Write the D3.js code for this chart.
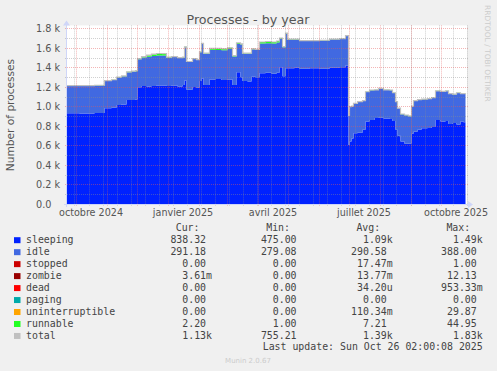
<!DOCTYPE html>
<html lang="fr">
<head>
<meta charset="UTF-8">
<title>Processes - by year</title>
<style>
    body {
        margin: 0;
        background: #f0f0f0;
        overflow: hidden;
    }
    svg {
        display: block;
        font-family: 'DejaVu Sans', sans-serif;
    }
    .mono {
        font-family: 'DejaVu Sans Mono', monospace;
    }
</style>
<script src="https://cdn.jsdelivr.net/npm/d3@7"></script>
</head>
<body>
<svg id="chart" width="497" height="371"></svg>
<script>
// values
const dates = [
    "2024-09-22", "2024-10-05", "2024-10-20", "2024-10-30", "2024-11-06", "2024-11-11", "2024-11-16",
    "2024-11-21", "2024-11-26", "2024-11-30", "2024-12-02", "2024-12-06", "2024-12-11", "2024-12-16",
    "2024-12-21", "2024-12-27", "2024-12-31", "2025-01-05", "2025-01-11", "2025-01-16", "2025-01-18",
    "2025-01-20", "2025-01-26", "2025-01-30", "2025-02-02", "2025-02-04", "2025-02-06", "2025-02-12",
    "2025-02-18", "2025-02-24", "2025-03-02", "2025-03-07", "2025-03-11", "2025-03-15", "2025-03-17",
    "2025-03-22", "2025-03-26", "2025-03-30", "2025-04-03", "2025-04-09", "2025-04-15", "2025-04-20",
    "2025-04-23", "2025-04-26", "2025-04-29", "2025-05-01", "2025-05-08", "2025-05-13", "2025-05-23",
    "2025-06-02", "2025-06-12", "2025-06-22", "2025-06-28", "2025-07-01", "2025-07-02", "2025-07-04",
    "2025-07-06", "2025-07-10", "2025-07-15", "2025-07-18", "2025-07-22", "2025-07-27", "2025-07-31",
    "2025-08-05", "2025-08-11", "2025-08-14", "2025-08-17", "2025-08-19", "2025-08-22", "2025-08-26",
    "2025-08-30", "2025-09-02", "2025-09-04", "2025-09-08", "2025-09-12", "2025-09-18", "2025-09-22",
    "2025-09-26", "2025-10-01", "2025-10-06", "2025-10-09", "2025-10-13", "2025-10-17", "2025-10-21",
    "2025-10-24", "2025-10-26"
];
const sleeping = [
    930, 928, 932, 980, 985, 1015, 1020,
    1065, 1065, 1070, 1195, 1210, 1205, 1210,
    1215, 1215, 1210, 1215, 1205, 1220, 1265,
    1170, 1200, 1190, 1260, 1285, 1220, 1275,
    1280, 1270, 1275, 1220, 1350, 1300, 1260,
    1255, 1305, 1300, 1340, 1345, 1335, 1345,
    1400, 1310, 1390, 1390, 1395, 1385, 1390,
    1385, 1395, 1400, 1420, 605, 640, 670,
    724, 730, 760, 845, 860, 880, 885,
    875, 870, 850, 760, 700, 640, 617,
    620, 720, 740, 760, 775, 780, 790,
    860, 845, 850, 820, 830, 815, 845,
    838, 838
];
const idle = [
    280, 281, 282, 282, 285, 283, 288,
    285, 292, 290, 287, 290, 305, 307,
    307, 307, 289, 290, 291, 281, 340,
    286, 286, 286, 296, 355, 320, 305,
    297, 305, 313, 292, 290, 335, 280,
    285, 280, 280, 305, 302, 310, 310,
    290, 297, 355, 295, 290, 287, 282,
    290, 292, 292, 302, 300, 355, 330,
    306, 316, 298, 303, 306, 288, 298,
    293, 296, 288, 288, 280, 280, 293,
    280, 280, 318, 308, 298, 298, 298,
    298, 308, 308, 308, 293, 323, 283,
    290, 291
];
const runnable = [
    3, 3, 3, 3, 3, 3, 4,
    4, 4, 6, 8, 10, 15, 18,
    20, 18, 6, 5, 4, 4, 5,
    4, 4, 4, 4, 5, 5, 15,
    18, 15, 12, 8, 10, 5, 5,
    5, 5, 5, 15, 18, 15, 15,
    10, 5, 5, 5, 5, 3, 3,
    3, 3, 3, 3, 3, 2, 2,
    2, 2, 2, 2, 2, 2, 2,
    2, 2, 2, 2, 2, 2, 2,
    2, 2, 2, 2, 2, 2, 2,
    2, 2, 2, 2, 2, 2, 2,
    2, 2.2
];

const yTicks = [0, 200, 400, 600, 800, 1000, 1200, 1400, 1600, 1800];
const yTickLabels = ["0.0", "0.2 k", "0.4 k", "0.6 k", "0.8 k", "1.0 k", "1.2 k", "1.4 k", "1.6 k", "1.8 k"];
const xLabelMonths = ["2024-10-01", "2025-01-01", "2025-04-01", "2025-07-01", "2025-10-01"];
const xLabels = ["octobre 2024", "janvier 2025", "avril 2025", "juillet 2025", "octobre 2025"];

const legendNames = ["sleeping", "idle", "stopped", "zombie", "dead", "paging", "uninterruptible", "runnable", "total"];
const legendColors = ["#0022ff", "#4169e1", "#cc0000", "#990000", "#ff0000", "#00aaaa", "#ffa500", "#22ff22", "#c0c0c0"];
const legendCur = ["838.32", "291.18", "0.00", "3.61m", "0.00", "0.00", "0.00", "2.20", "1.13k"];
const legendMin = ["475.00", "279.08", "0.00", "0.00", "0.00", "0.00", "0.00", "1.00", "755.21"];
const legendAvg = ["1.09k", "290.58", "17.47m", "13.77m", "34.20u", "0.00", "110.34m", "7.21", "1.39k"];
const legendMax = ["1.49k", "388.00", "1.00", "12.13", "953.33m", "0.00", "29.87", "44.95", "1.83k"];

const svg = d3.select("#chart");
const textColor = "#555";

// plot area
const plotLeft = 67, plotRight = 467, plotTop = 25.4, plotBottom = 204;

const parse = d3.timeParse("%Y-%m-%d");
const startDate = new Date(2024, 8, 22, 12);
const endDate = new Date(2025, 9, 27, 12);

const x = d3.scaleTime().domain([startDate, endDate]).range([plotLeft, plotRight]);
const y = d3.scaleLinear().domain([0, 1830]).range([plotBottom, plotTop]);

const rows = dates.map((d, i) => ({
    date: parse(d),
    sleeping: sleeping[i],
    idle: idle[i],
    runnable: runnable[i]
}));

svg.append("rect")
    .attr("x", plotLeft).attr("y", plotTop)
    .attr("width", plotRight - plotLeft).attr("height", plotBottom - plotTop)
    .attr("fill", "#ffffff");

svg.append("clipPath").attr("id", "plot-clip")
    .append("rect")
    .attr("x", plotLeft).attr("y", plotTop)
    .attr("width", plotRight - plotLeft).attr("height", plotBottom - plotTop);

const plot = svg.append("g").attr("clip-path", "url(#plot-clip)");

const stack = d3.stack().keys(["sleeping", "idle", "runnable"]);
const layers = stack(rows);
const layerColors = { sleeping: "#0022ff", idle: "#4169e1", runnable: "#22ff22" };

const area = d3.area()
    .curve(d3.curveStepAfter)
    .x(d => x(d.data.date))
    .y0(d => y(d[0]))
    .y1(d => y(d[1]));

plot.selectAll(".layer")
    .data(layers)
    .enter()
    .append("path")
    .attr("class", "layer")
    .attr("d", area)
    .attr("fill", d => layerColors[d.key]);

// total line on top of the stack
const totalLine = d3.line()
    .curve(d3.curveStepAfter)
    .x(d => x(d.date))
    .y(d => y(d.sleeping + d.idle + d.runnable));

plot.append("path")
    .datum(rows)
    .attr("d", totalLine)
    .attr("fill", "none")
    .attr("stroke", "#c0c0c0")
    .attr("stroke-width", 1.2);

// grid (drawn over the data like rrdtool does)
const grid = svg.append("g");
const minorColor = "rgba(143,143,143,0.42)";
const majorColor = "rgba(228,90,90,0.45)";

const yMinor = d3.range(100, 1900, 200);
grid.selectAll(".ygrid-minor")
    .data(yMinor)
    .enter()
    .append("line")
    .attr("x1", plotLeft - 2).attr("x2", plotRight + 2)
    .attr("y1", d => Math.round(y(d)) + 0.5).attr("y2", d => Math.round(y(d)) + 0.5)
    .attr("stroke", minorColor)
    .attr("stroke-dasharray", "1,1");

grid.selectAll(".ygrid-major")
    .data(yTicks.slice(1))
    .enter()
    .append("line")
    .attr("x1", plotLeft - 2).attr("x2", plotRight + 2)
    .attr("y1", d => Math.round(y(d)) + 0.5).attr("y2", d => Math.round(y(d)) + 0.5)
    .attr("stroke", majorColor)
    .attr("stroke-dasharray", "1,1");

const biweekly = d3.timeMonday.range(new Date(2024, 8, 30), endDate, 2);
grid.selectAll(".xgrid-minor")
    .data(biweekly)
    .enter()
    .append("line")
    .attr("x1", d => Math.round(x(d)) + 0.5).attr("x2", d => Math.round(x(d)) + 0.5)
    .attr("y1", plotTop).attr("y2", plotBottom + 2)
    .attr("stroke", minorColor)
    .attr("stroke-dasharray", "1,1");

const months = d3.timeMonth.range(startDate, endDate);
grid.selectAll(".xgrid-major")
    .data(months)
    .enter()
    .append("line")
    .attr("x1", d => Math.round(x(d)) + 0.5).attr("x2", d => Math.round(x(d)) + 0.5)
    .attr("y1", plotTop).attr("y2", plotBottom + 2)
    .attr("stroke", majorColor)
    .attr("stroke-dasharray", "1,1");

// axes
const axisColor = "#cfd6f8";
svg.append("line")
    .attr("x1", plotLeft - 3).attr("x2", plotRight + 2)
    .attr("y1", plotBottom + 0.5).attr("y2", plotBottom + 0.5)
    .attr("stroke", axisColor);
svg.append("path")
    .attr("d", `M${plotRight + 1},${plotBottom - 3} L${plotRight + 6},${plotBottom + 0.5} L${plotRight + 1},${plotBottom + 4} Z`)
    .attr("fill", axisColor);
svg.append("line")
    .attr("x1", plotLeft - 0.5).attr("x2", plotLeft - 0.5)
    .attr("y1", plotBottom + 3).attr("y2", plotTop - 1)
    .attr("stroke", axisColor);
svg.append("path")
    .attr("d", `M${plotLeft - 4},${plotTop} L${plotLeft - 0.5},${plotTop - 5} L${plotLeft + 3},${plotTop} Z`)
    .attr("fill", axisColor);

// y labels
svg.selectAll(".ylabel")
    .data(yTicks)
    .enter()
    .append("text")
    .attr("x", 36)
    .attr("y", d => y(d) + 4)
    .attr("font-size", "9.7px")
    .attr("fill", textColor)
    .text((d, i) => yTickLabels[i]);

// x labels, centred half a month after the month start
svg.selectAll(".xlabel")
    .data(xLabelMonths)
    .enter()
    .append("text")
    .attr("x", d => x(d3.timeDay.offset(parse(d), 15)) + 0.5)
    .attr("y", 216)
    .attr("text-anchor", "middle")
    .attr("font-size", "9.6px")
    .attr("fill", textColor)
    .text((d, i) => xLabels[i]);

// title and side texts
svg.append("text")
    .attr("x", 248).attr("y", 24)
    .attr("text-anchor", "middle")
    .attr("font-size", "12.7px")
    .attr("fill", textColor)
    .text("Processes - by year");

svg.append("text")
    .attr("transform", "translate(14,115) rotate(-90)")
    .attr("text-anchor", "middle")
    .attr("font-size", "10.6px")
    .attr("fill", textColor)
    .text("Number of processes");

svg.append("text")
    .attr("transform", "translate(485,5) rotate(90)")
    .attr("font-size", "7.5px")
    .attr("fill", "#cccccc")
    .text("RRDTOOL / TOBI OETIKER");

// legend
const cw = 5.95;
const colEnds = [212, 302.5, 392.7, 482.7];
const headers = ["Cur:", "Min:", "Avg:", "Max:"];
const legend = svg.append("g").attr("class", "mono").attr("font-size", "9.9px").attr("fill", "#444");

legend.selectAll(".hdr")
    .data(headers)
    .enter()
    .append("text")
    .attr("x", (d, i) => colEnds[i] - 12.5)
    .attr("y", 231)
    .attr("text-anchor", "end")
    .text(d => d);

const rowY = i => 243.2 + i * 11.97;

legend.selectAll(".box")
    .data(legendColors)
    .enter()
    .append("rect")
    .attr("x", 14).attr("y", (d, i) => rowY(i) - 6)
    .attr("width", 6.5).attr("height", 6)
    .attr("fill", d => d);

legend.selectAll(".name")
    .data(legendNames)
    .enter()
    .append("text")
    .attr("x", 26)
    .attr("y", (d, i) => rowY(i))
    .text(d => d);

const hasSuffix = s => /[a-z]$/i.test(s);
[legendCur, legendMin, legendAvg, legendMax].forEach((col, c) => {
    legend.selectAll(".v" + c)
        .data(col)
        .enter()
        .append("text")
        .attr("x", d => colEnds[c] - (hasSuffix(d) ? 0 : cw))
        .attr("y", (d, i) => rowY(i))
        .attr("text-anchor", "end")
        .text(d => d);
});

legend.append("text")
    .attr("x", 482.7)
    .attr("y", rowY(9) - 1)
    .attr("text-anchor", "end")
    .text("Last update: Sun Oct 26 02:00:08 2025");

svg.append("text")
    .attr("x", 248).attr("y", 363)
    .attr("text-anchor", "middle")
    .attr("font-size", "7px")
    .attr("fill", "#cccccc")
    .text("Munin 2.0.67");
</script>
</body>
</html>
